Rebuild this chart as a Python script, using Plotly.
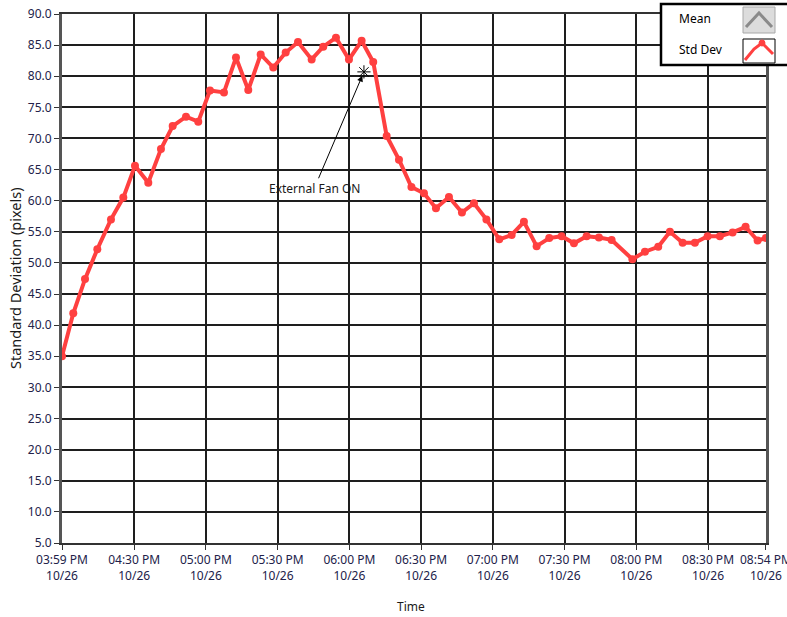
import plotly.graph_objects as go

# ---- data ----
times = [
    "2023-10-26 15:59:50", "2023-10-26 16:04:33", "2023-10-26 16:09:27", "2023-10-26 16:14:36",
    "2023-10-26 16:20:19", "2023-10-26 16:25:28", "2023-10-26 16:30:21", "2023-10-26 16:35:55",
    "2023-10-26 16:41:13", "2023-10-26 16:46:07", "2023-10-26 16:51:41", "2023-10-26 16:56:49",
    "2023-10-26 17:01:43", "2023-10-26 17:07:34", "2023-10-26 17:12:35", "2023-10-26 17:17:44",
    "2023-10-26 17:22:55", "2023-10-26 17:28:11", "2023-10-26 17:33:22", "2023-10-26 17:38:31",
    "2023-10-26 17:44:14", "2023-10-26 17:49:05", "2023-10-26 17:54:24", "2023-10-26 17:59:50",
    "2023-10-26 18:05:08", "2023-10-26 18:09:59", "2023-10-26 18:15:36", "2023-10-26 18:20:45",
    "2023-10-26 18:25:58", "2023-10-26 18:31:12", "2023-10-26 18:36:13", "2023-10-26 18:41:39",
    "2023-10-26 18:47:05", "2023-10-26 18:52:06", "2023-10-26 18:57:19", "2023-10-26 19:02:41",
    "2023-10-26 19:07:52", "2023-10-26 19:13:00", "2023-10-26 19:18:19", "2023-10-26 19:23:35",
    "2023-10-26 19:28:46", "2023-10-26 19:33:55", "2023-10-26 19:39:13", "2023-10-26 19:44:22",
    "2023-10-26 19:49:40", "2023-10-26 19:58:22", "2023-10-26 20:03:36", "2023-10-26 20:09:10",
    "2023-10-26 20:14:03", "2023-10-26 20:19:22", "2023-10-26 20:24:30", "2023-10-26 20:29:49",
    "2023-10-26 20:34:57", "2023-10-26 20:40:16", "2023-10-26 20:45:42", "2023-10-26 20:50:43",
    "2023-10-26 20:54:12",
]
std_dev = [
    35.0, 41.9, 47.4, 52.2, 57.0, 60.5, 65.6, 62.9,
    68.3, 72.0, 73.5, 72.7, 77.7, 77.4, 83.0, 77.8,
    83.5, 81.4, 83.8, 85.5, 82.7, 84.75, 86.2, 82.7,
    85.7, 82.3, 70.4, 66.6, 62.2, 61.2, 58.8, 60.6,
    58.1, 59.6, 57.0, 53.8, 54.5, 56.6, 52.7, 54.0,
    54.3, 53.15, 54.3, 54.1, 53.7, 50.6, 51.8, 52.6,
    55.0, 53.25, 53.25, 54.3, 54.3, 54.9, 55.8, 53.6,
    54.0,
]

tick_vals = [
    "2023-10-26 15:59:50", "2023-10-26 16:30:00", "2023-10-26 17:00:00", "2023-10-26 17:30:00",
    "2023-10-26 18:00:00", "2023-10-26 18:30:00", "2023-10-26 19:00:00", "2023-10-26 19:30:00",
    "2023-10-26 20:00:00", "2023-10-26 20:30:00", "2023-10-26 20:54:12",
]
tick_text = [
    "03:59 PM<br>10/26", "04:30 PM<br>10/26", "05:00 PM<br>10/26", "05:30 PM<br>10/26",
    "06:00 PM<br>10/26", "06:30 PM<br>10/26", "07:00 PM<br>10/26", "07:30 PM<br>10/26",
    "08:00 PM<br>10/26", "08:30 PM<br>10/26", "08:54 PM<br>10/26",
]
x_range = ["2023-10-26 15:59:50", "2023-10-26 20:54:14"]
y_range = [5, 90]
y_ticks = [5, 10, 15, 20, 25, 30, 35, 40, 45, 50, 55, 60, 65, 70, 75, 80, 85, 90]

annot_point = ("2023-10-26 18:06:06", 80.7)
annot_text_pos = ("2023-10-26 17:45:20", 62.0)
annot_label = "External Fan ON"

RED = "#FF4040"
FONT = "Noto Sans"
TICKCOL = "#22224a"

fig = go.Figure()
fig.add_trace(go.Scatter(
    x=times, y=std_dev, mode="lines+markers", name="Std Dev",
    line=dict(color=RED, width=4), marker=dict(color=RED, size=8),
    showlegend=False,
))
fig.add_trace(go.Scatter(
    x=[annot_point[0]], y=[annot_point[1]], mode="markers",
    marker=dict(symbol="asterisk-open", size=11, color="black", line=dict(width=1, color="black")),
    showlegend=False,
))

fig.add_annotation(
    x=annot_point[0], y=annot_point[1], xref="x", yref="y",
    ax=annot_text_pos[0], ay=annot_text_pos[1], axref="x", ayref="y",
    text=annot_label, showarrow=True, arrowhead=2, arrowsize=1.2, arrowwidth=1,
    arrowcolor="black", standoff=4, startstandoff=0,
    font=dict(family=FONT, size=12, color="#1a1a1a"),
)

def px(xp):
    return (xp - 62) / 704.0

def py(yp):
    return (543 - yp) / 529.0

shapes = []
# legend box
shapes.append(dict(type="rect", xref="paper", yref="paper",
                   x0=px(661), x1=px(795), y0=py(65), y1=py(4),
                   line=dict(color="black", width=2.5), fillcolor="white", layer="above"))
# Mean icon
shapes.append(dict(type="rect", xref="paper", yref="paper",
                   x0=px(743), x1=px(775), y0=py(33), y1=py(7),
                   line=dict(color="#a8a8a8", width=1), fillcolor="#dcdcdc", layer="above"))
shapes.append(dict(type="path", xref="paper", yref="paper",
                   path=f"M {px(746)} {py(27)} L {px(759)} {py(13)} L {px(772)} {py(27)}",
                   line=dict(color="#8a8a8a", width=3), layer="above"))
# Std Dev icon
shapes.append(dict(type="rect", xref="paper", yref="paper",
                   x0=px(743), x1=px(775), y0=py(63), y1=py(39),
                   line=dict(color="black", width=1), fillcolor="white", layer="above"))
shapes.append(dict(type="path", xref="paper", yref="paper",
                   path=f"M {px(745)} {py(60)} L {px(754)} {py(49)} L {px(762)} {py(43)} L {px(773)} {py(54)}",
                   line=dict(color=RED, width=3), layer="above"))
shapes.append(dict(type="circle", xref="paper", yref="paper",
                   x0=px(759), x1=px(765), y0=py(46), y1=py(40),
                   line=dict(color=RED, width=1), fillcolor=RED, layer="above"))
fig.update_layout(shapes=shapes)

fig.add_annotation(x=px(677), y=py(19), xref="paper", yref="paper", text="Mean",
                   showarrow=False, xanchor="left", yanchor="middle",
                   font=dict(family=FONT, size=12, color="black"))
fig.add_annotation(x=px(677), y=py(50), xref="paper", yref="paper", text="Std Dev",
                   showarrow=False, xanchor="left", yanchor="middle",
                   font=dict(family=FONT, size=12, color="black"))

# axis titles
fig.add_annotation(x=px(411), y=py(606), xref="paper", yref="paper", text="Time",
                   showarrow=False, xanchor="center", yanchor="middle",
                   font=dict(family=FONT, size=12, color="#1a1a1a"))
fig.add_annotation(x=px(15), y=py(278), xref="paper", yref="paper",
                   text="Standard Deviation (pixels)", textangle=-90,
                   showarrow=False, xanchor="center", yanchor="middle",
                   font=dict(family=FONT, size=14.5, color="#1a1a1a"))

fig.update_xaxes(
    type="date", range=x_range, tickvals=tick_vals, ticktext=tick_text,
    showgrid=True, gridcolor="#1e1e1e", gridwidth=1.5,
    showline=True, linecolor="#333333", linewidth=2, mirror=True,
    ticks="outside", ticklen=5, tickcolor="#333333", tickwidth=1,
    tickfont=dict(family=FONT, size=12, color=TICKCOL), zeroline=False,
    ticklabeloverflow="allow", automargin=False,
)
fig.update_yaxes(
    range=y_range, tickvals=y_ticks, ticktext=[f"{v:.1f}" for v in y_ticks],
    showgrid=True, gridcolor="#1e1e1e", gridwidth=1.5,
    showline=True, linecolor="#555555", linewidth=3, mirror=True,
    ticks="outside", ticklen=5, tickcolor="#333333", tickwidth=1,
    tickfont=dict(family=FONT, size=12, color=TICKCOL), zeroline=False,
    automargin=False,
)

fig.update_layout(
    width=787, height=617,
    margin=dict(l=62, r=21, t=14, b=74),
    plot_bgcolor="white", paper_bgcolor="white",
    font=dict(family=FONT, size=12),
    showlegend=False,
)

fig.write_html(
    "out.html",
    config={"displayModeBar": False},
    post_script="document.body.style.margin='0';document.body.style.overflow='hidden';",
)
